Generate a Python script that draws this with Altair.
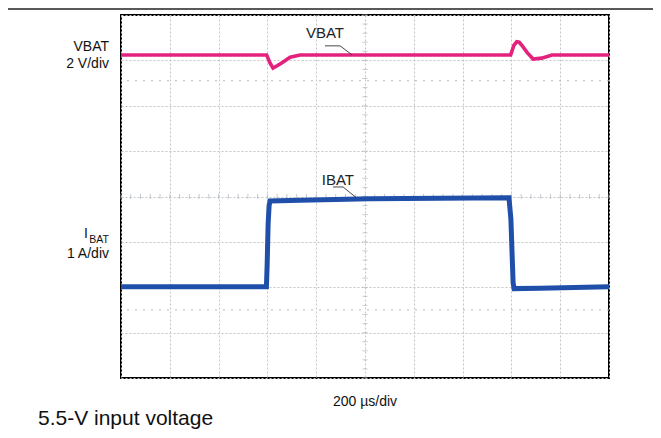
import altair as alt
import pandas as pd

# ---- data (time in µs, amplitude in divisions) ----
vbat_t = [0, 597, 610, 623, 640, 660, 693, 734, 1597, 1610, 1622, 1632, 1643, 1665, 1689, 1724, 1766, 2000]
vbat_v = [3.12, 3.12, 2.95, 2.83, 2.88, 2.95, 3.07, 3.12, 3.12, 3.33, 3.41, 3.40, 3.33, 3.17, 3.03, 3.05, 3.12, 3.12]

ibat_t = [0, 596, 599, 603, 607, 611, 734, 1020, 1590, 1598, 1603, 1607, 1611, 1717, 2000]
ibat_v = [-1.99, -1.99, -1.5, -0.6, -0.2, -0.1, -0.08, -0.05, -0.03, -0.5, -1.3, -1.9, -2.03, -2.02, -1.99]

x_grid = [0, 200, 400, 600, 800, 1000, 1200, 1400, 1600, 1800, 2000]
y_grid = [-4, -3, -2, -1, 0, 1, 2, 3, 4]
x_minor = [i * 40 for i in range(51)]
y_minor = [i * 0.2 - 4 for i in range(41)]
ref_marks = [2.55, -2.5]

W, H = 488, 363
xs = alt.Scale(domain=[0, 2000], nice=False, zero=False)
ys = alt.Scale(domain=[-4, 4], nice=False, zero=False)
FONT = "Liberation Sans"

vdf = pd.DataFrame({"t": vbat_t, "v": vbat_v})
idf = pd.DataFrame({"t": ibat_t, "v": ibat_v})

grid_axis_x = alt.Axis(values=x_grid, grid=True, gridDash=[2, 2], gridColor="#c4c4c4",
                       gridWidth=1, labels=False, ticks=False, domain=False, title=None)
grid_axis_y = alt.Axis(values=y_grid, grid=True, gridDash=[2, 2], gridColor="#c4c4c4",
                       gridWidth=1, labels=False, ticks=False, domain=False, title=None)

base_grid = alt.Chart(pd.DataFrame({"t": [0], "v": [0]})).mark_point(opacity=0).encode(
    x=alt.X("t:Q", scale=xs, axis=grid_axis_x),
    y=alt.Y("v:Q", scale=ys, axis=grid_axis_y),
)

refs = alt.Chart(pd.DataFrame({"v": ref_marks})).mark_rule(
    color="#b8b8b8", strokeDash=[2, 6], strokeWidth=1
).encode(y=alt.Y("v:Q", scale=ys))

xtick = alt.Chart(pd.DataFrame({"t": x_minor, "v": [0] * len(x_minor)})).mark_tick(
    orient="vertical", size=5, thickness=1, color="#a9b4bd"
).encode(x=alt.X("t:Q", scale=xs), y=alt.Y("v:Q", scale=ys))

ytick = alt.Chart(pd.DataFrame({"t": [1000] * len(y_minor), "v": y_minor})).mark_tick(
    orient="horizontal", size=5, thickness=1, color="#a9b4bd"
).encode(x=alt.X("t:Q", scale=xs), y=alt.Y("v:Q", scale=ys))

vline = alt.Chart(vdf).mark_line(color="#E3227E", strokeWidth=3.6).encode(
    x=alt.X("t:Q", scale=xs), y=alt.Y("v:Q", scale=ys))
iline = alt.Chart(idf).mark_line(color="#1F4FA8", strokeWidth=5).encode(
    x=alt.X("t:Q", scale=xs), y=alt.Y("v:Q", scale=ys))

# annotations inside plot (data coordinates)
ann = pd.DataFrame({"t": [836, 889], "v": [3.6, 0.37], "label": ["VBAT", "IBAT"]})
ann_text = alt.Chart(ann).mark_text(font=FONT, fontSize=15, color="#222222").encode(
    x=alt.X("t:Q", scale=xs), y=alt.Y("v:Q", scale=ys), text="label:N")

call = pd.DataFrame({
    "t": [836, 898, 947, 869, 910, 963],
    "v": [3.32, 3.32, 3.12, 0.21, 0.21, -0.02],
    "g": ["a", "a", "a", "b", "b", "b"],
})
callouts = alt.Chart(call).mark_line(color="#333333", strokeWidth=0.9).encode(
    x=alt.X("t:Q", scale=xs), y=alt.Y("v:Q", scale=ys), detail="g:N")

# outside labels (pixel positions relative to plot area)
def label(txt, x, y, size, align="right", baseline="middle", color="#111111"):
    return alt.Chart(pd.DataFrame({"s": [txt]})).mark_text(
        font=FONT, fontSize=size, align=align, baseline=baseline, color=color
    ).encode(x=alt.value(x), y=alt.value(y), text="s:N")

labels = [
    label("VBAT", -12, 32, 14),
    label("2 V/div", -12, 49, 14),
    label("I", -33, 219, 14),
    label("BAT", -12, 225, 10.5),
    label("1 A/div", -12, 239, 14),
    label("200 µs/div", W / 2, 387, 14, align="center"),
    label("5.5-V input voltage", -83, 410, 21, align="left", baseline="alphabetic"),
]

top_rule = alt.Chart(pd.DataFrame({"a": [0]})).mark_rule(color="#222222", strokeWidth=1.5).encode(
    x=alt.value(-113), x2=alt.value(532), y=alt.value(-6))

chart = alt.layer(
    base_grid, refs, xtick, ytick, vline, iline, ann_text, callouts, *labels, top_rule
).properties(
    width=W, height=H,
    autosize=alt.AutoSizeParams(type="none"),
    padding={"left": 113, "top": 7, "right": 44, "bottom": 52},
).configure_view(stroke="black", strokeWidth=2)

chart.save("out.html", embed_options={"renderer": "svg", "actions": False})
